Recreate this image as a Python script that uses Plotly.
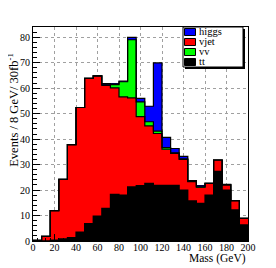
import plotly.graph_objects as go

# ---- data (bin centres of 8 GeV bins, stacked components) ----
mass_centres = [4, 12, 20, 28, 36, 44, 52, 60, 68, 76, 84, 92, 100,
                108, 116, 124, 132, 140, 148, 156, 164, 172, 180, 188, 196]
tt = [0.0, 0.1, 0.4, 0.8, 1.3, 3.5, 6.8, 9.8, 12.8, 18.3, 18.0, 21.3, 21.7,
      22.6, 21.8, 21.8, 21.8, 20.0, 15.8, 14.8, 18.0, 27.3, 20.0, 12.2, 6.3]
vjet = [0.3, 1.7, 11.5, 23.4, 36.5, 48.9, 57.0, 55.0, 48.3, 41.8, 38.6, 34.9, 27.1,
        22.6, 20.4, 14.3, 12.6, 12.0, 7.5, 6.3, 4.6, 4.5, 2.0, 3.6, 2.6]
vv = [0.0, 0.0, 0.0, 0.0, 0.0, 0.0, 0.0, 0.0, 0.5, 1.3, 5.9, 22.8, 5.8,
      1.6, 0.9, 0.6, 0.2, 0.2, 0.1, 0.1, 0.0, 0.0, 0.0, 0.0, 0.0]
higgs = [0.0, 0.0, 0.0, 0.0, 0.0, 0.0, 0.0, 0.0, 0.2, 0.3, 0.3, 0.9, 1.4,
         6.1, 26.8, 4.0, 1.7, 1.0, 0.3, 0.4, 0.0, 0.0, 0.2, 0.0, 0.0]
bin_width = 8
x_ticks = [0, 20, 40, 60, 80, 100, 120, 140, 160, 180, 200]
y_ticks = [0, 10, 20, 30, 40, 50, 60, 70, 80]

stack_order = [("tt", tt, "#000000"), ("vjet", vjet, "#ff0000"),
               ("vv", vv, "#00ff00"), ("higgs", higgs, "#0000ff")]
legend_order = ["higgs", "vjet", "vv", "tt"]
colors = {n: c for n, _, c in stack_order}

# the page shows the figure with an 8px body margin
OFF = 8
W, H = 276, 268
FL, FT, FR, FB = 33, 27, 248, 241        # frame in page pixels
L, T = FL - OFF, FT - OFF
PW, PH = FR - FL, FB - FT
R, B = W - L - PW, H - T - PH


def fx(px):
    return (px - FL) / PW


def fy(py):
    return (FB - py) / PH


SERIF = "Liberation Serif"
fig = go.Figure()

# filled bars
for name, vals, col in stack_order:
    fig.add_trace(go.Bar(x=mass_centres, y=vals, width=bin_width, name=name,
                         marker=dict(color=col, line=dict(width=0)),
                         showlegend=False))

# step outlines at the top of each cumulative level
cum = [0.0] * len(mass_centres)
edges = [c - bin_width / 2 for c in mass_centres] + [mass_centres[-1] + bin_width / 2]
for name, vals, col in stack_order:
    cum = [a + b for a, b in zip(cum, vals)]
    fig.add_trace(go.Scatter(x=[edges[0]] + edges, y=[0] + cum + [cum[-1]],
                             mode="lines", line=dict(color="black", width=1.2, shape="hv"),
                             showlegend=False, hoverinfo="skip"))

axis_common = dict(showline=True, linecolor="black", linewidth=1, mirror=True,
                   ticks="inside", ticklen=7, tickcolor="black", tickwidth=1,
                   showgrid=True, gridcolor="#a0a0a0", griddash="dot", gridwidth=1,
                   zeroline=False, tickfont=dict(family=SERIF, size=10, color="black"))

fig.update_layout(
    width=W, height=H, margin=dict(l=L, r=R, t=T, b=B, autoexpand=False),
    paper_bgcolor="white", plot_bgcolor="white",
    barmode="stack", bargap=0, showlegend=False,
    xaxis=dict(range=[0, 200], tickvals=x_ticks, ticklabelstandoff=-3,
               minor=dict(ticks="inside", dtick=4, ticklen=3.5, tickcolor="black", showgrid=False),
               **axis_common),
    yaxis=dict(range=[0, 84], tickvals=y_ticks,
               minor=dict(ticks="inside", dtick=2, ticklen=3.5, tickcolor="black", showgrid=False),
               **axis_common),
)

# axis titles
fig.add_annotation(text="Events / 8 GeV/ 30fb<sup>-1</sup>", textangle=-90,
                   xref="paper", yref="paper", x=fx(13), y=fy(26),
                   xanchor="center", yanchor="top", showarrow=False, width=164, height=14,
                   font=dict(family=SERIF, size=12.5, color="black"))
fig.add_annotation(text="Mass (GeV)", xref="paper", yref="paper",
                   x=fx(248), y=fy(258), xanchor="right", yanchor="middle",
                   showarrow=False, font=dict(family=SERIF, size=11.5, color="black"))

# legend box with shadow (ROOT style)
fig.add_shape(type="rect", xref="paper", yref="paper",
              x0=fx(185), x1=fx(245), y0=fy(69), y1=fy(29),
              fillcolor="black", line=dict(width=0))
fig.add_shape(type="rect", xref="paper", yref="paper",
              x0=fx(183), x1=fx(243), y0=fy(67), y1=fy(27),
              fillcolor="white", line=dict(color="black", width=1))
for i, name in enumerate(legend_order):
    yc = 32 + 10 * i
    fig.add_shape(type="rect", xref="paper", yref="paper",
                  x0=fx(184.5), x1=fx(195.5), y0=fy(yc + 3.5), y1=fy(yc - 3.5),
                  fillcolor=colors[name], line=dict(color="black", width=1))
    fig.add_annotation(text=name, xref="paper", yref="paper", x=fx(197), y=fy(yc),
                       xanchor="left", yanchor="middle", showarrow=False,
                       font=dict(family=SERIF, size=10.5, color="black"))

fig.write_html("out.html")
